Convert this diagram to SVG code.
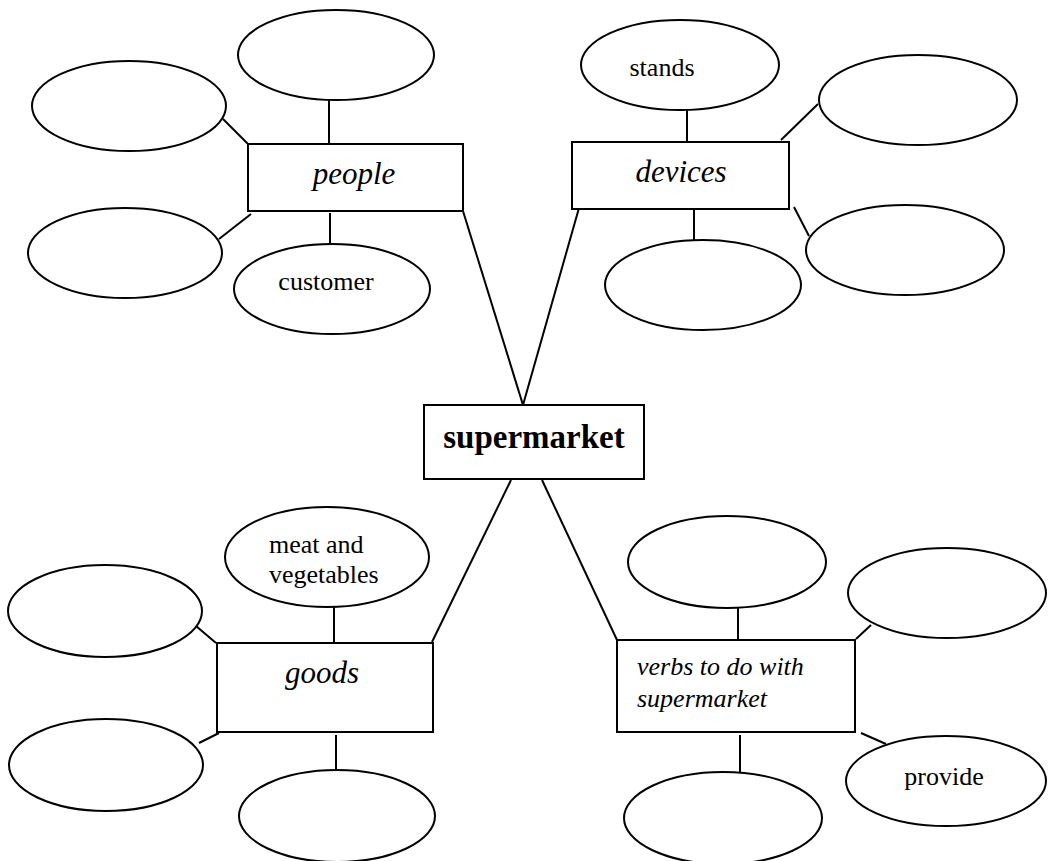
<svg xmlns="http://www.w3.org/2000/svg" width="1059" height="861" viewBox="0 0 1059 861">
<style>
.shape{fill:#fff;stroke:#000;stroke-width:2}
.ln{stroke:#000;stroke-width:2;fill:none}
text{font-family:"Liberation Serif","Times New Roman",serif;fill:#000}
.lbl{font-size:26px}
.cat{font-size:31px;font-style:italic}
.verb{font-size:26px;font-style:italic}
.main{font-size:33px;font-weight:bold}
</style>
<rect width="1059" height="861" fill="#fff"/>
<g id="connectors">
<line class="ln" x1="463" y1="211" x2="523" y2="405"/>
<line class="ln" x1="579" y1="208" x2="523" y2="405"/>
<line class="ln" x1="432" y1="642" x2="511" y2="480"/>
<line class="ln" x1="542" y1="480" x2="617" y2="640"/>
<line class="ln" x1="329" y1="99" x2="329" y2="144"/>
<line class="ln" x1="223" y1="119" x2="248" y2="144"/>
<line class="ln" x1="251" y1="214" x2="219" y2="239"/>
<line class="ln" x1="330" y1="213" x2="330" y2="244"/>
<line class="ln" x1="687" y1="110" x2="687" y2="142"/>
<line class="ln" x1="781" y1="140" x2="818" y2="104"/>
<line class="ln" x1="794" y1="207" x2="809" y2="236"/>
<line class="ln" x1="694" y1="209" x2="694" y2="240"/>
<line class="ln" x1="334" y1="607" x2="334" y2="643"/>
<line class="ln" x1="196" y1="626" x2="216" y2="643"/>
<line class="ln" x1="219" y1="733" x2="199" y2="743"/>
<line class="ln" x1="336" y1="735" x2="336" y2="771"/>
<line class="ln" x1="738" y1="608" x2="738" y2="640"/>
<line class="ln" x1="856" y1="639" x2="871" y2="625"/>
<line class="ln" x1="861" y1="733" x2="886" y2="744"/>
<line class="ln" x1="740" y1="735" x2="740" y2="773"/>
</g>
<g id="supermarket">
<rect class="shape" x="424" y="405" width="220" height="74"/>
<text class="main" x="534" y="448" text-anchor="middle">supermarket</text>
</g>
<g id="people">
<rect class="shape" x="248" y="144" width="215" height="67"/>
<text class="cat" x="354" y="184" text-anchor="middle">people</text>
</g>
<g id="people-top"><ellipse class="shape" cx="336" cy="55" rx="98" ry="45"/></g>
<g id="people-upper-left"><ellipse class="shape" cx="129" cy="106" rx="97" ry="45"/></g>
<g id="people-lower-left"><ellipse class="shape" cx="125" cy="253" rx="97" ry="45"/></g>
<g id="customer">
<ellipse class="shape" cx="332" cy="289" rx="98" ry="45"/>
<text class="lbl" x="326" y="290" text-anchor="middle">customer</text>
</g>
<g id="devices">
<rect class="shape" x="572" y="142" width="217" height="67"/>
<text class="cat" x="681" y="182" text-anchor="middle">devices</text>
</g>
<g id="stands">
<ellipse class="shape" cx="680" cy="65" rx="99" ry="45"/>
<text class="lbl" x="662" y="76" text-anchor="middle">stands</text>
</g>
<g id="devices-upper-right"><ellipse class="shape" cx="918" cy="100" rx="99" ry="45"/></g>
<g id="devices-lower-right"><ellipse class="shape" cx="905" cy="250" rx="99" ry="45"/></g>
<g id="devices-bottom"><ellipse class="shape" cx="703" cy="285" rx="98" ry="45"/></g>
<g id="goods">
<rect class="shape" x="217" y="643" width="216" height="89"/>
<text class="cat" x="322" y="683" text-anchor="middle">goods</text>
</g>
<g id="meat">
<ellipse class="shape" cx="327" cy="557" rx="102" ry="50"/>
<text class="lbl" x="269" y="553">meat and</text>
<text class="lbl" x="269" y="583">vegetables</text>
</g>
<g id="goods-upper-left"><ellipse class="shape" cx="105" cy="611" rx="97" ry="46"/></g>
<g id="goods-lower-left"><ellipse class="shape" cx="106" cy="765" rx="97" ry="46"/></g>
<g id="goods-bottom"><ellipse class="shape" cx="337" cy="816" rx="98" ry="46"/></g>
<g id="verbs">
<rect class="shape" x="617" y="640" width="238" height="92"/>
<text class="verb" x="637" y="675">verbs to do with</text>
<text class="verb" x="637" y="707">supermarket</text>
</g>
<g id="verbs-top"><ellipse class="shape" cx="727" cy="562" rx="99" ry="46"/></g>
<g id="verbs-upper-right"><ellipse class="shape" cx="947" cy="593" rx="99" ry="45"/></g>
<g id="provide">
<ellipse class="shape" cx="946" cy="781" rx="100" ry="45"/>
<text class="lbl" x="944" y="785" text-anchor="middle">provide</text>
</g>
<g id="verbs-bottom"><ellipse class="shape" cx="723" cy="818" rx="99" ry="46"/></g>
</svg>
